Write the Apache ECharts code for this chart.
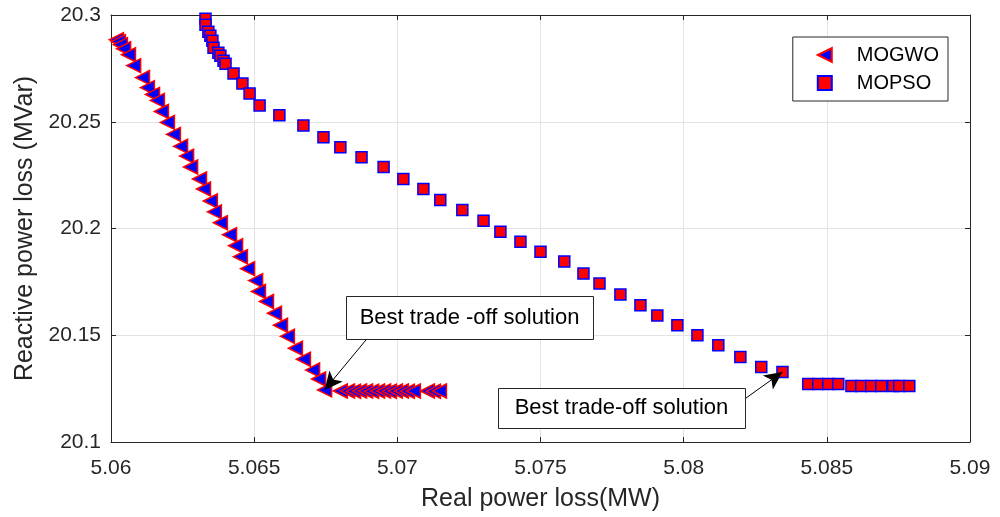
<!doctype html>
<html>
<head>
<meta charset="utf-8">
<title>MOGWO vs MOPSO</title>
<script src="https://cdn.jsdelivr.net/npm/echarts@6/dist/echarts.min.js"></script>
<style type="text/css">
	html, body { margin: 0; padding: 0; background: #fff; }
	#chart { width: 1000px; height: 517px; }
</style>
</head>
<body>
<div id="chart"></div>
<script type="text/javascript">
	// MOGWO front (MW, MVar)
	var mogwoX = [5.06019, 5.06026, 5.06033, 5.06044, 5.06061, 5.06079, 5.0611, 5.06127, 5.06145, 5.06162,
		5.06176, 5.06197, 5.06218, 5.06243, 5.06264, 5.06278, 5.06309, 5.06323, 5.06347, 5.06361,
		5.06382, 5.06414, 5.06435, 5.06452, 5.06477, 5.06505, 5.06515, 5.06543, 5.06571, 5.06592,
		5.06616, 5.06644, 5.06672, 5.06704, 5.06725, 5.06746,
		5.06801, 5.06826, 5.06847, 5.06868, 5.06889, 5.0691, 5.06931, 5.06952, 5.06972, 5.06993,
		5.07014, 5.07035, 5.07056, 5.07105, 5.07126, 5.07147];
	var mogwoY = [20.2884, 20.2875, 20.2861, 20.2842, 20.2814, 20.2763, 20.2707, 20.266, 20.2628, 20.26,
		20.2548, 20.2497, 20.2441, 20.2385, 20.2339, 20.2288, 20.2232, 20.2185, 20.2129, 20.2078,
		20.2027, 20.1971, 20.1919, 20.1868, 20.1812, 20.1756, 20.1705, 20.1658, 20.1603, 20.1547,
		20.1495, 20.1439, 20.1388, 20.1337, 20.1295, 20.1244,
		20.1239, 20.1239, 20.1238, 20.1239, 20.1239, 20.1238, 20.1239, 20.1239, 20.1238, 20.1239,
		20.1239, 20.1238, 20.1239, 20.1239, 20.1238, 20.1239];

	// MOPSO front
	var mopsoX = [5.0633, 5.0633, 5.0634, 5.06347, 5.06354, 5.06358, 5.06375, 5.06382, 5.06393, 5.064,
		5.06428, 5.06459, 5.06484, 5.06519, 5.06588, 5.06672, 5.06742, 5.06801, 5.06875, 5.06952,
		5.07021, 5.07091, 5.0715, 5.07227, 5.07301, 5.0736, 5.0743, 5.075, 5.07583, 5.0765,
		5.07706, 5.07779, 5.07849, 5.07908, 5.07978, 5.08048, 5.08121, 5.08198, 5.08271, 5.08345,
		5.08435, 5.0847, 5.08505, 5.0854, 5.08586, 5.0862, 5.08655, 5.0869, 5.08732, 5.08753, 5.08788];
	var mopsoY = [20.2982, 20.2954, 20.2921, 20.2903, 20.2879, 20.2847, 20.2823, 20.2809, 20.2786, 20.2772,
		20.2726, 20.2679, 20.2632, 20.2576, 20.253, 20.2483, 20.2427, 20.2381, 20.2334, 20.2288,
		20.2232, 20.2185, 20.2134, 20.2087, 20.2036, 20.1985, 20.1938, 20.1891, 20.1845, 20.1789,
		20.1742, 20.1691, 20.164, 20.1593, 20.1547, 20.15, 20.1453, 20.1398, 20.1351, 20.1328,
		20.1272, 20.1272, 20.1272, 20.1272, 20.1262, 20.1262, 20.1262, 20.1262, 20.1262, 20.1262, 20.1262];

	// annotation boxes: [left, top] in data units, text, arrow tail -> head
	var noteText = ['Best trade -off solution', 'Best trade-off solution'];
	var noteBox = [[5.06819, 20.1686], [5.07350, 20.1253]];
	var noteSize = [[247, 43], [247, 40]];
	var arrowFrom = [[5.06927, 20.1537], [5.08174, 20.1164]];
	var arrowTo = [[5.06746, 20.1244], [5.08345, 20.1328]];

	var FONT = '"Liberation Sans", Arial, Helvetica, sans-serif';
	var AXIS_COLOR = '#262626';

	function pairs(xs, ys) {
		var out = [];
		for (var i = 0; i < xs.length; i++) {
			out.push([xs[i], ys[i]]);
		}
		return out;
	}

	function fmt(v) {
		return String(parseFloat(v.toFixed(4)));
	}

	var arrowLines = [];
	for (var i = 0; i < arrowFrom.length; i++) {
		arrowLines.push([{ coord: arrowFrom[i] }, { coord: arrowTo[i] }]);
	}

	var myChart = echarts.init(document.getElementById('chart'));
	var option = {
		animation: false,
		backgroundColor: '#fff',
		textStyle: { fontFamily: FONT },
		grid: {
			left: 111,
			right: 30,
			top: 15,
			bottom: 73
		},
		legend: {
			right: 52,
			top: 37,
			orient: 'vertical',
			backgroundColor: '#fff',
			borderColor: AXIS_COLOR,
			borderWidth: 1,
			padding: [8, 9, 8, 24],
			itemWidth: 14,
			itemHeight: 14,
			itemGap: 8,
			textStyle: {
				fontFamily: FONT,
				fontSize: 20,
				color: '#000',
				padding: [0, 0, 0, 20]
			},
			data: [
				{ name: 'MOGWO', icon: 'path://M0,7 L14,0 L14,14 Z' },
				{ name: 'MOPSO', icon: 'path://M2,2 L12,2 L12,12 L2,12 Z' }
			]
		},
		xAxis: [
			{
				type: 'value',
				min: 5.06,
				max: 5.09,
				interval: 0.005,
				name: 'Real power loss(MW)',
				nameLocation: 'middle',
				nameGap: 45,
				nameTextStyle: { fontFamily: FONT, fontSize: 25, color: AXIS_COLOR },
				axisLine: { show: true, lineStyle: { color: AXIS_COLOR, width: 1 } },
				axisTick: { show: true, inside: true, length: 5, lineStyle: { color: AXIS_COLOR } },
				axisLabel: { fontFamily: FONT, fontSize: 21, color: AXIS_COLOR, margin: 16, formatter: fmt },
				splitLine: { show: true, lineStyle: { color: '#e3e3e3', width: 1 } }
			},
			{
				type: 'value',
				position: 'top',
				min: 5.06,
				max: 5.09,
				interval: 0.005,
				axisLine: { show: true, lineStyle: { color: AXIS_COLOR, width: 1 } },
				axisTick: { show: true, inside: true, length: 5, lineStyle: { color: AXIS_COLOR } },
				axisLabel: { show: false },
				splitLine: { show: false }
			}
		],
		yAxis: [
			{
				type: 'value',
				min: 20.1,
				max: 20.3,
				interval: 0.05,
				name: 'Reactive power loss (MVar)',
				nameLocation: 'middle',
				nameGap: 69,
				nameTextStyle: { fontFamily: FONT, fontSize: 25, color: AXIS_COLOR },
				axisLine: { show: true, lineStyle: { color: AXIS_COLOR, width: 1 } },
				axisTick: { show: true, inside: true, length: 5, lineStyle: { color: AXIS_COLOR } },
				axisLabel: { fontFamily: FONT, fontSize: 21, color: AXIS_COLOR, margin: 10, formatter: fmt },
				splitLine: { show: true, lineStyle: { color: '#e3e3e3', width: 1 } }
			},
			{
				type: 'value',
				position: 'right',
				min: 20.1,
				max: 20.3,
				interval: 0.05,
				axisLine: { show: true, lineStyle: { color: AXIS_COLOR, width: 1 } },
				axisTick: { show: true, inside: true, length: 5, lineStyle: { color: AXIS_COLOR } },
				axisLabel: { show: false },
				splitLine: { show: false }
			}
		],
		series: [
			{
				name: 'MOGWO',
				type: 'scatter',
				symbol: 'triangle',
				symbolRotate: 90,
				symbolSize: 14,
				itemStyle: { color: '#0000ff', borderColor: '#ff0000', borderWidth: 1.5, opacity: 1 },
				data: pairs(mogwoX, mogwoY),
				markLine: {
					silent: true,
					symbol: ['none', 'arrow'],
					symbolSize: [13, 18],
					label: { show: false },
					lineStyle: { color: '#000', width: 1, type: 'solid' },
					data: arrowLines
				},
				z: 3
			},
			{
				name: 'MOPSO',
				type: 'scatter',
				symbol: 'rect',
				symbolSize: 11,
				itemStyle: { color: '#ff0000', borderColor: '#0000ff', borderWidth: 1.5, opacity: 1 },
				data: pairs(mopsoX, mopsoY),
				z: 2
			}
		]
	};
	myChart.setOption(option);

	// text boxes for the two annotations
	var els = [];
	for (var k = 0; k < noteText.length; k++) {
		var p = myChart.convertToPixel({ gridIndex: 0 }, noteBox[k]);
		els.push({
			type: 'rect',
			shape: { x: Math.round(p[0]) + 0.5, y: Math.round(p[1]) + 0.5, width: noteSize[k][0], height: noteSize[k][1] },
			style: { fill: '#fff', stroke: AXIS_COLOR, lineWidth: 1 },
			z: 10
		});
		els.push({
			type: 'text',
			x: Math.round(p[0]) + noteSize[k][0] / 2,
			y: Math.round(p[1]) + noteSize[k][1] / 2,
			style: {
				text: noteText[k],
				font: '22px ' + FONT,
				fill: '#000',
				align: 'center',
				verticalAlign: 'middle'
			},
			z: 11
		});
	}
	myChart.setOption({ graphic: els });
</script>
</body>
</html>
